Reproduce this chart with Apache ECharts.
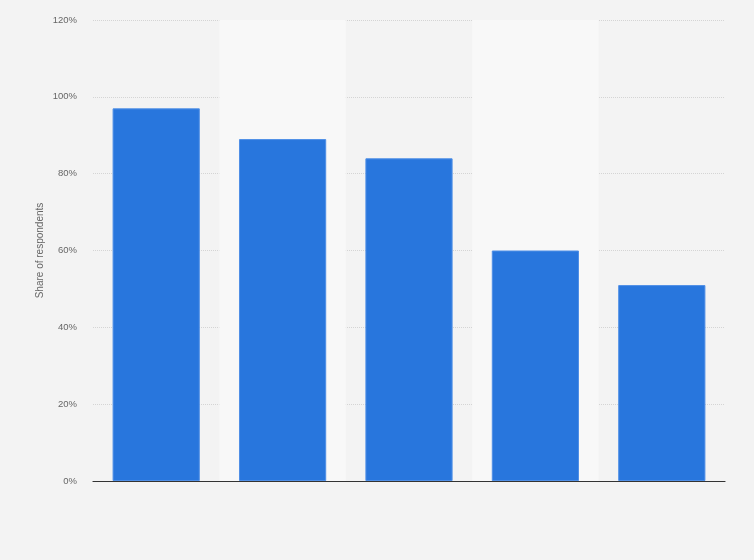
<!DOCTYPE html>
<html>
<head>
<meta charset="utf-8">
<script src="https://cdn.jsdelivr.net/npm/echarts@6/dist/echarts.min.js"></script>
<style>
  html, body { margin: 0; padding: 0; background: #f3f3f3; }
  #container { width: 754px; height: 560px; }
</style>
</head>
<body>
<div id="container"></div>
<script>
// categories are not labelled in the source picture
var categories = ['Item 1', 'Item 2', 'Item 3', 'Item 4', 'Item 5'];
var shares = [97, 89, 84, 60, 51];
var yTicks = { min: 0, max: 120, step: 20 };

var myChart = echarts.init(document.getElementById('container'));
var option = {
    backgroundColor: '#f3f3f3',
    animation: false,
    grid: { left: 93, right: 29, top: 20, bottom: 79 },
    xAxis: {
        type: 'category',
        data: categories,
        axisLine: { lineStyle: { color: '#333', width: 1.2 } },
        axisTick: { show: false },
        axisLabel: { show: false },
        splitArea: {
            show: true,
            areaStyle: { color: ['rgba(0,0,0,0)', '#f8f8f8'] }
        }
    },
    yAxis: {
        type: 'value',
        min: yTicks.min,
        max: yTicks.max,
        interval: yTicks.step,
        name: 'Share of respondents',
        nameLocation: 'middle',
        nameGap: 48,
        nameMoveOverlap: false,
        nameTextStyle: { color: '#666', fontSize: 10, fontFamily: 'Arial, Liberation Sans' },
        axisLine: { show: false },
        axisTick: { show: false },
        axisLabel: {
            formatter: '{value}%',
            color: '#666',
            fontSize: 9.5,
            margin: 16,
            fontFamily: 'Arial, Liberation Sans'
        },
        splitLine: { lineStyle: { color: '#d4d4d4', type: [1, 1] } }
    },
    series: [{
        type: 'bar',
        data: shares,
        barWidth: '69%',
        itemStyle: { color: '#2876dd', borderColor: '#4f8fe6', borderWidth: 1 }
    }]
};
myChart.setOption(option);
</script>
</body>
</html>
